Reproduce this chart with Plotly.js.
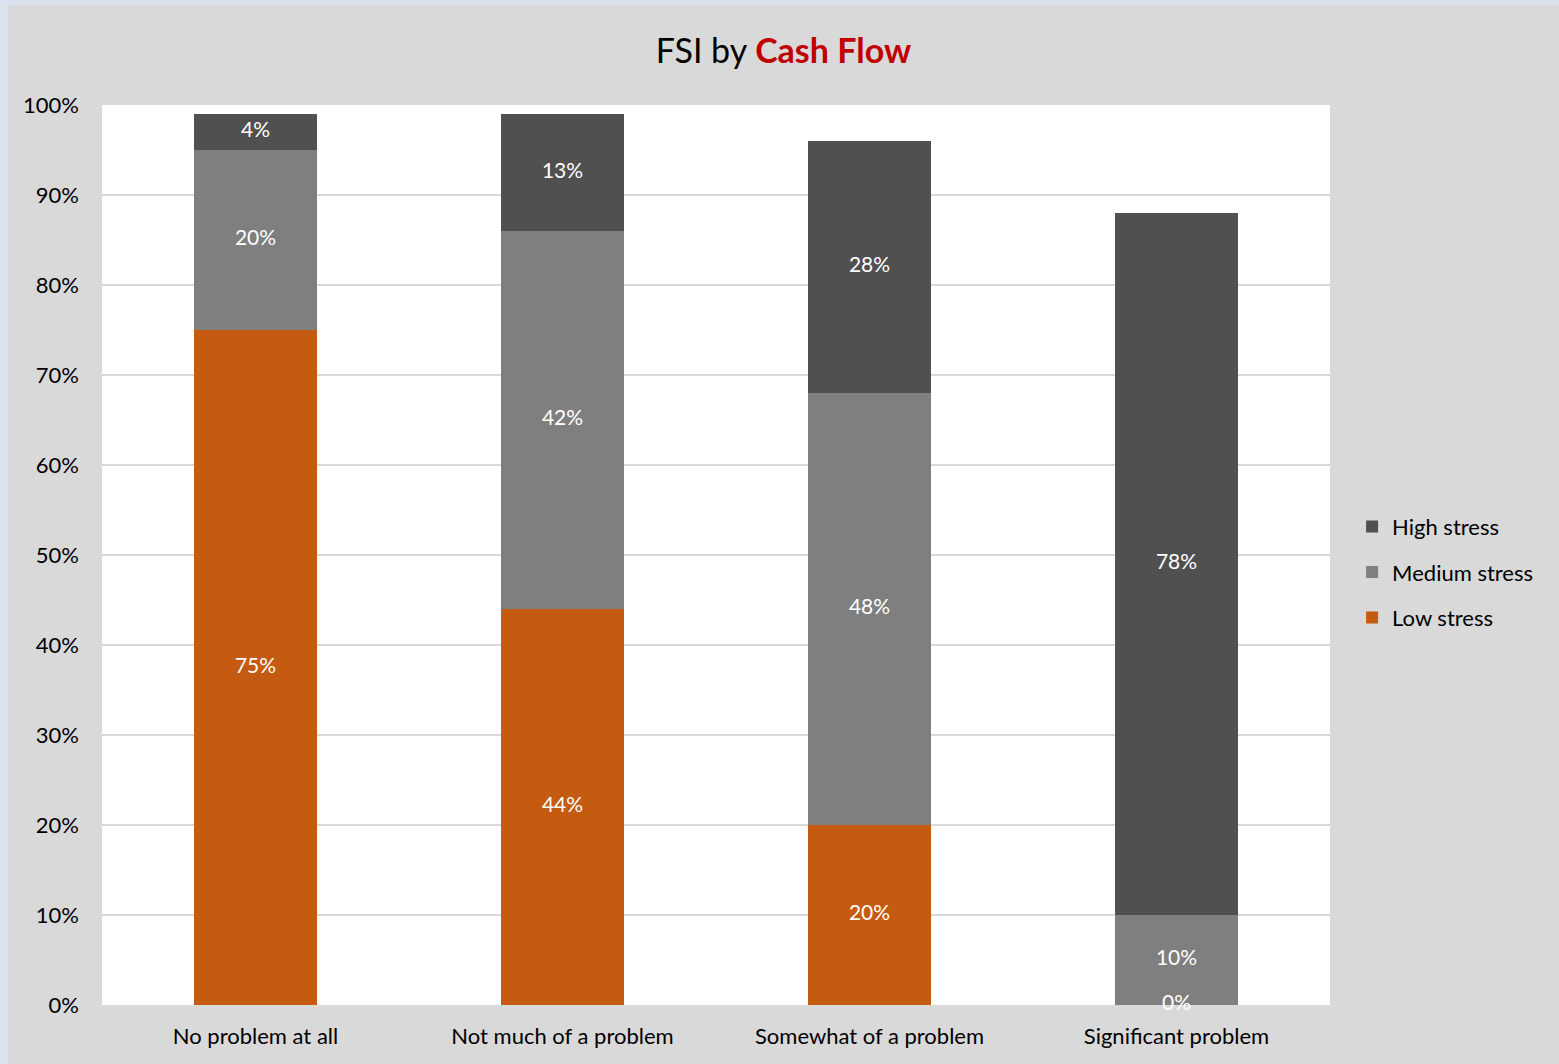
<!DOCTYPE html>
<html>
<head>
<meta charset="utf-8">
<script src="https://cdn.plot.ly/plotly-3.0.1.min.js"></script>
<style>
html,body{margin:0;padding:0;background:#dae2ee;width:1559px;height:1064px;overflow:hidden;}
#chart{position:absolute;left:8px;top:5px;width:1551px;height:1059px;}
</style>
</head>
<body>
<div id="chart"></div>
<script>
const categories = ["No problem at all", "Not much of a problem", "Somewhat of a problem", "Significant problem"];
const lowStress = [75, 44, 20, 0];
const mediumStress = [20, 42, 48, 10];
const highStress = [4, 13, 28, 78];
const seriesNames = ["Low stress", "Medium stress", "High stress"];
const yTickVals = [0, 10, 20, 30, 40, 50, 60, 70, 80, 90, 100];

const colors = ["#c55a11", "#7f7f7f", "#505050"];
const FONT = "Lato, 'Open Sans', sans-serif";
const series = [lowStress, mediumStress, highStress];

const traces = series.map((vals, i) => ({
  type: "bar",
  name: seriesNames[i],
  legendgroup: "g" + i,
  legendrank: 100 - i,
  x: categories,
  y: vals,
  marker: {color: colors[i]},
  width: 0.4,
  hoverinfo: "skip"
}));

// label trace: centered in each segment (from cumulative data)
const lx = [], ly = [], lt = [];
categories.forEach((c, ci) => {
  let base = 0;
  series.forEach((vals) => {
    const v = vals[ci];
    lx.push(c);
    ly.push(base + v / 2);
    lt.push(v + "%");
    base += v;
  });
});
traces.push({
  type: "scatter",
  mode: "text",
  x: lx,
  y: ly,
  text: lt,
  textposition: "middle center",
  textfont: {family: FONT, size: 21, color: "#ffffff"},
  showlegend: false,
  cliponaxis: false,
  hoverinfo: "skip"
});

const layout = {
  width: 1551,
  height: 1059,
  paper_bgcolor: "#d9d9d9",
  plot_bgcolor: "#ffffff",
  barmode: "stack",
  margin: {l: 94, r: 229, t: 100, b: 59, autoexpand: false},
  font: {family: FONT, size: 22, color: "#000000"},
  title: {
    text: "FSI by <b><span style='color:#c00000'>Cash Flow</span></b>",
    font: {family: FONT, size: 34, color: "#000000"},
    x: 0.5,
    xanchor: "center",
    y: 1 - 46 / 1059,
    yanchor: "middle"
  },
  xaxis: {
    type: "category",
    showgrid: false,
    zeroline: false,
    showline: false,
    ticks: "",
    tickfont: {family: FONT, size: 22, color: "#000000"},
    ticklabelstandoff: 16
  },
  yaxis: {
    range: [0, 100],
    tickvals: yTickVals,
    ticktext: yTickVals.map(v => v + "%"),
    showgrid: true,
    gridcolor: "#d9d9d9",
    gridwidth: 1.5,
    zeroline: false,
    showline: false,
    ticks: "",
    tickfont: {family: FONT, size: 22, color: "#000000"},
    ticklabelstandoff: 22
  },
  legend: {
    x: 1.018,
    xanchor: "left",
    y: 0.481,
    yanchor: "middle",
    traceorder: "grouped",
    font: {family: FONT, size: 22, color: "#000000"},
    bgcolor: "rgba(0,0,0,0)",
    itemwidth: 30,
    tracegroupgap: 14
  },
  showlegend: true
};

Plotly.newPlot("chart", traces, layout, {displayModeBar: false, staticPlot: true});
</script>
</body>
</html>
